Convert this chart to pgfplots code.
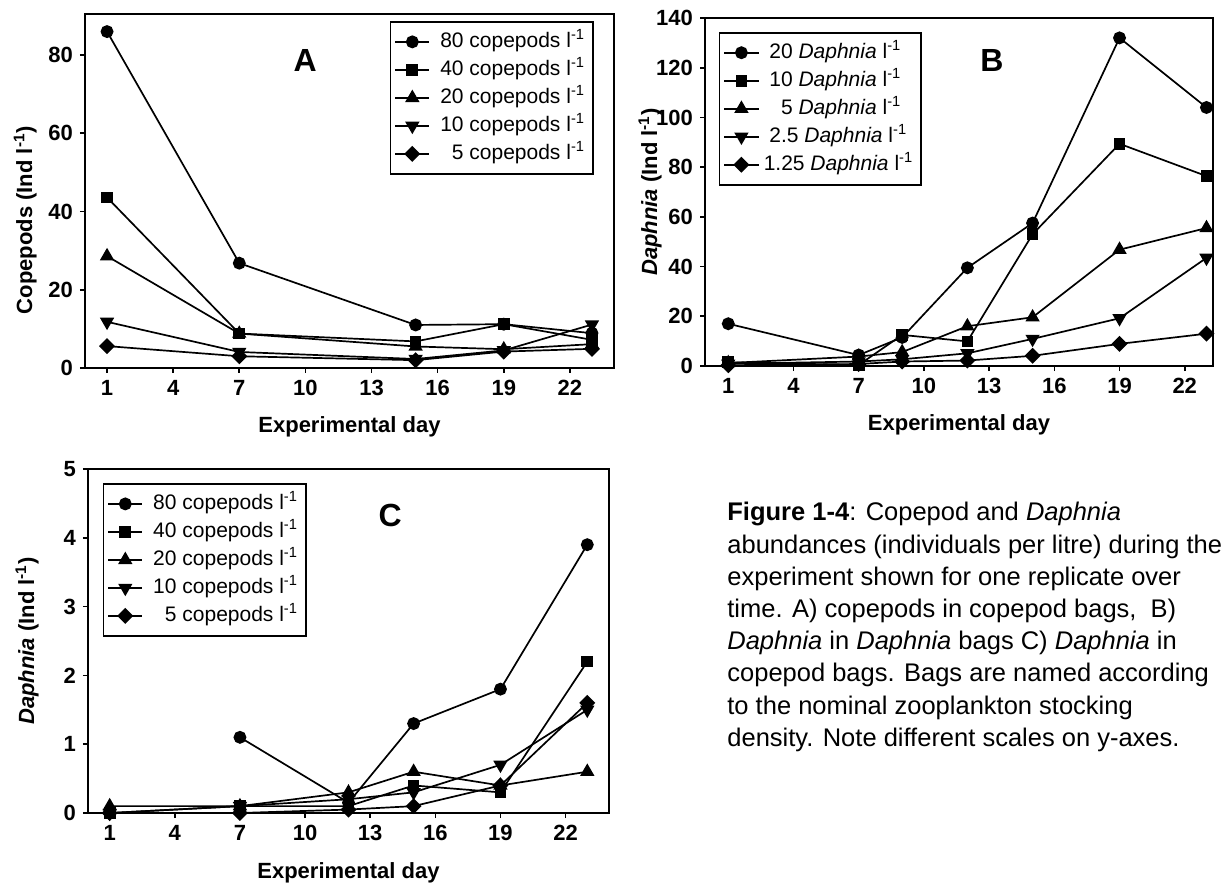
\documentclass[border=0pt]{standalone}
\usepackage{fontspec}
\setmainfont{Liberation Sans}
\usepackage{pgfplots}
\pgfplotsset{compat=1.18}

% 1 px of the reference = 0.5pt
\pgfplotsset{
  panel/.style={
    scale only axis,
    clip=false,
    axis line style={line width=0.8pt},
    tick style={line width=0.8pt, black},
    major tick length=2.5pt,
    tick align=outside,
    tick pos=left,
    ymin=0,
    xtick={1,4,...,22},
    /pgf/number format/assume math mode=true,
    tick label style={font=\fontsize{11}{13}\selectfont\bfseries},
    label style={font=\fontsize{11}{13}\selectfont\bfseries},
    legend cell align=left,
    legend style={draw=black, line width=0.8pt,
      font=\fontsize{10.5}{12}\selectfont,
      inner xsep=2pt, inner ysep=3pt,
      nodes={inner ysep=1pt, text height=9pt, text depth=3pt},
      /tikz/every odd column/.append style={column sep=3pt}},
    every axis plot/.append style={black, line width=0.85pt},
  },
  mcirc/.style={mark=*, mark size=2.8pt},
  msq/.style={mark=square*, mark size=2.5pt},
  mtri/.style={mark=triangle*, mark size=3.3pt},
  mdown/.style={mark=triangle*, mark size=3.3pt, mark options={rotate=180}},
  mdia/.style={mark=square*, mark size=2.4pt, mark options={rotate=45}},
}

\begin{document}
\begin{tikzpicture}
\useasboundingbox (0,0) rectangle (614pt,-443.5pt);

% ---- A ----
\begin{axis}[panel,
  at={(42.5pt,-184pt)}, anchor=south west,
  width=264.5pt, height=177pt,
  xmin=0, xmax=24, ymax=90.5,
  ytick={0,20,...,80},
  xlabel={Experimental day},
  ylabel={Copepods (Ind l\textsuperscript{-1})},
  xlabel style={at={(axis description cs:0.5,-0.165)}, anchor=center},
  ylabel style={at={(axis description cs:-0.113,0.418)}, anchor=center},
  legend style={at={(0.962,0.980)}, anchor=north east},
]
\addplot[mcirc] coordinates {(1,86) (7,26.8) (15,11) (19,11.2) (23,8.9)};
\addlegendentry{80 copepods l\textsuperscript{-1}}
\addplot[msq] coordinates {(1,43.6) (7,8.8) (15,6.8) (19,11.2) (23,7.2)};
\addlegendentry{40 copepods l\textsuperscript{-1}}
\addplot[mtri] coordinates {(1,28.6) (7,8.8) (15,5.5) (19,4.8) (23,6.1)};
\addlegendentry{20 copepods l\textsuperscript{-1}}
\addplot[mdown] coordinates {(1,11.8) (7,4.1) (15,2.3) (19,4.5) (23,11.1)};
\addlegendentry{10 copepods l\textsuperscript{-1}}
\addplot[mdia] coordinates {(1,5.6) (7,3.0) (15,2.0) (19,4.2) (23,4.9)};
\addlegendentry{\phantom{0}5 copepods l\textsuperscript{-1}}
\node[font=\fontsize{16}{19}\selectfont\bfseries] at (rel axis cs:0.416,0.870) {A};
\end{axis}

% ---- B ----
\begin{axis}[panel,
  at={(352.5pt,-183pt)}, anchor=south west,
  width=254pt, height=174pt,
  xmin=-0.07, xmax=23.3, ymax=140,
  ytick={0,20,...,140},
  xlabel={Experimental day},
  ylabel={\textit{Daphnia} (Ind l\textsuperscript{-1})},
  xlabel style={at={(axis description cs:0.5,-0.168)}, anchor=center},
  ylabel style={at={(axis description cs:-0.108,0.5)}, anchor=center},
  legend style={at={(0.027,0.960)}, anchor=north west},
]
\addplot[mcirc] coordinates {(1,17) (7,4.4) (9,11.5) (12,39.5) (15,57.5) (19,132) (23,104)};
\addlegendentry{20 \textit{Daphnia} l\textsuperscript{-1}}
\addplot[msq] coordinates {(1,1.5) (7,0.4) (9,12.5) (12,9.9) (15,53) (19,89.4) (23,76.4)};
\addlegendentry{10 \textit{Daphnia} l\textsuperscript{-1}}
\addplot[mtri] coordinates {(1,1.2) (7,3.8) (9,5.6) (12,16) (15,19.6) (19,46.8) (23,55.5)};
\addlegendentry{\phantom{0}5 \textit{Daphnia} l\textsuperscript{-1}}
\addplot[mdown] coordinates {(1,0.9) (7,1.8) (9,2.7) (12,5.1) (15,10.9) (19,19.2) (23,43.5)};
\addlegendentry{2.5 \textit{Daphnia} l\textsuperscript{-1}}
\addplot[mdia] coordinates {(1,0.3) (7,0.8) (9,1.8) (12,2.2) (15,4.1) (19,8.9) (23,13)};
\addlegendentry{\hspace{-2.8pt}1.25 \textit{Daphnia} l\textsuperscript{-1}}
\node[font=\fontsize{16}{19}\selectfont\bfseries] at (rel axis cs:0.565,0.879) {B};
\end{axis}

% ---- C ----
\begin{axis}[panel,
  at={(44pt,-406.5pt)}, anchor=south west,
  width=260.5pt, height=172pt,
  xmin=0, xmax=24, ymax=5,
  ytick={0,1,...,5},
  xlabel={Experimental day},
  ylabel={\textit{Daphnia} (Ind l\textsuperscript{-1})},
  xlabel style={at={(axis description cs:0.5,-0.174)}, anchor=center},
  ylabel style={at={(axis description cs:-0.117,0.5)}, anchor=center},
  legend style={at={(0.028,0.959)}, anchor=north west},
]
\addplot[mcirc] coordinates {(7,1.1) (12,0.15) (15,1.3) (19,1.8) (23,3.9)};
\addlegendentry{80 copepods l\textsuperscript{-1}}
\addplot[msq] coordinates {(1,0) (7,0.1) (12,0.1) (15,0.4) (19,0.3) (23,2.2)};
\addlegendentry{40 copepods l\textsuperscript{-1}}
\addplot[mtri] coordinates {(1,0.1) (7,0.1) (12,0.3) (15,0.6) (19,0.4) (23,0.6)};
\addlegendentry{20 copepods l\textsuperscript{-1}}
\addplot[mdown] coordinates {(1,0) (7,0.1) (12,0.2) (15,0.3) (19,0.7) (23,1.5)};
\addlegendentry{10 copepods l\textsuperscript{-1}}
\addplot[mdia] coordinates {(1,0) (7,0) (12,0.05) (15,0.1) (19,0.4) (23,1.6)};
\addlegendentry{\phantom{0}5 copepods l\textsuperscript{-1}}
\node[font=\fontsize{16}{19}\selectfont\bfseries] at (rel axis cs:0.58,0.866) {C};
\end{axis}

% ---- caption ----
\node[anchor=north west, inner sep=0pt, align=left,
  font=\fontsize{12.75}{16.1}\selectfont] at (363.5pt,-251pt)
{\textbf{Figure 1-4}: Copepod and \textit{Daphnia}\\
abundances (individuals per litre) during the\\
experiment shown for one replicate over\\
time. A) copepods in copepod bags,\ \ B)\\
\textit{Daphnia} in \textit{Daphnia} bags C) \textit{Daphnia} in\\
copepod bags. Bags are named according\\
to the nominal zooplankton stocking\\
density. Note different scales on y-axes.};
\end{tikzpicture}
\end{document}
